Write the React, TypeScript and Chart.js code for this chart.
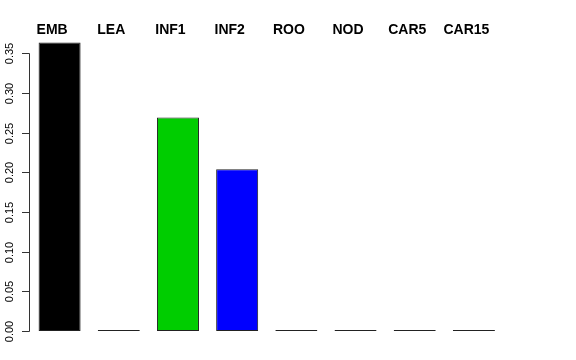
import React, { useEffect, useRef } from "react";
import { Chart, registerables } from "chart.js";

Chart.register(...registerables);

const categories = ["EMB", "LEA", "INF1", "INF2", "ROO", "NOD", "CAR5", "CAR15"];
const shares = [0.3636, 0, 0.269, 0.2038, 0, 0, 0, 0];
const barColors = ["#000000", "#DF536B", "#00CD00", "#0000FF", "#00FFFF", "#FF00FF", "#FFFF00", "#BEBEBE"];
const yTicks = [0, 0.05, 0.1, 0.15, 0.2, 0.25, 0.3, 0.35];
const yTickLabels = ["0.00", "0.05", "0.10", "0.15", "0.20", "0.25", "0.30", "0.35"];

// Draws the rotated left axis and the bold category names above the bars.
const axisAndLabels = {
  id: "axisAndLabels",
  afterDraw(chart: any) {
    const ctx = chart.ctx;
    const y = chart.scales.y;
    const x = chart.scales.x;
    const axisX = 29.5;
    ctx.save();
    ctx.strokeStyle = "#333";
    ctx.lineWidth = 1;
    ctx.beginPath();
    ctx.moveTo(axisX, Math.round(y.getPixelForValue(yTicks[0])) + 0.5);
    ctx.lineTo(axisX, Math.round(y.getPixelForValue(yTicks[yTicks.length - 1])) + 0.5);
    ctx.stroke();
    ctx.fillStyle = "#000";
    ctx.font = '11px "Liberation Sans", Arial, sans-serif';
    ctx.textAlign = "center";
    ctx.textBaseline = "alphabetic";
    yTicks.forEach((v, i) => {
      const py = Math.round(y.getPixelForValue(v)) + 0.5;
      ctx.beginPath();
      ctx.moveTo(22, py);
      ctx.lineTo(axisX, py);
      ctx.stroke();
      ctx.save();
      ctx.translate(12.5, py);
      ctx.rotate(-Math.PI / 2);
      ctx.fillText(yTickLabels[i], 0, 0);
      ctx.restore();
    });
    ctx.font = 'bold 14px "Liberation Sans", Arial, sans-serif';
    categories.forEach((c, i) => {
      ctx.fillText(c, x.getPixelForValue(i) - 7.5, 34);
    });
    ctx.restore();
  },
};

export default function App() {
  const ref = useRef<HTMLCanvasElement>(null);
  useEffect(() => {
    if (!ref.current) return;
    const chart = new Chart(ref.current, {
      type: "bar",
      data: {
        labels: categories,
        datasets: [
          {
            data: shares,
            backgroundColor: barColors,
            borderColor: "#222",
            borderWidth: 1,
            borderSkipped: false,
            minBarLength: 1,
            barPercentage: 0.71,
            categoryPercentage: 1,
          },
        ],
      },
      options: {
        responsive: false,
        animation: false,
        layout: { padding: { left: 30, right: 72.5, top: 37.4, bottom: 29 } },
        plugins: { legend: { display: false }, tooltip: { enabled: false } },
        scales: {
          x: { display: false, offset: true, grid: { display: false } },
          y: { display: false, min: 0, max: 0.37 },
        },
      },
      plugins: [axisAndLabels],
    });
    return () => chart.destroy();
  }, []);
  return (
    <div style={{ position: "fixed", left: 0, top: 0, width: 576, height: 360, background: "#fff" }}>
      <canvas ref={ref} width={576} height={360} />
    </div>
  );
}
